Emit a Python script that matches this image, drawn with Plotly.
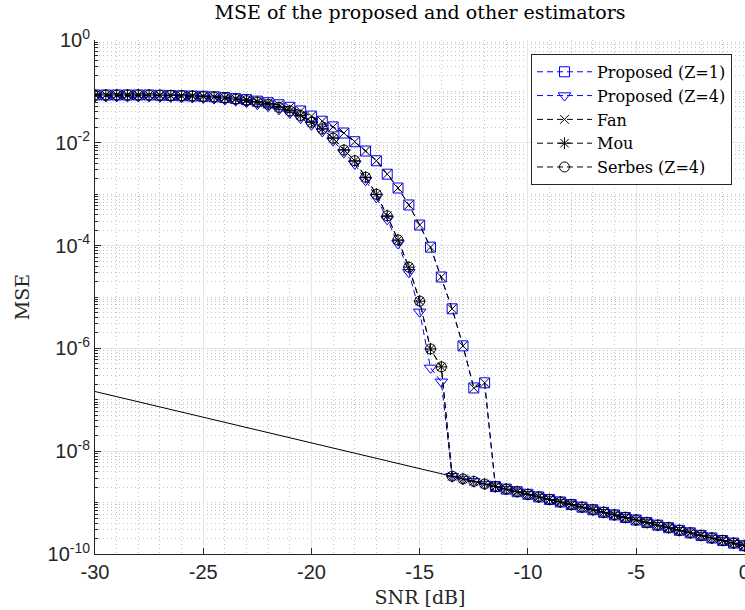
import plotly.graph_objects as go

snr = [-30.0, -29.5, -29.0, -28.5, -28.0, -27.5, -27.0, -26.5, -26.0, -25.5,
       -25.0, -24.5, -24.0, -23.5, -23.0, -22.5, -22.0, -21.5, -21.0, -20.5,
       -20.0, -19.5, -19.0, -18.5, -18.0, -17.5, -17.0, -16.5, -16.0, -15.5,
       -15.0, -14.5, -14.0, -13.5, -13.0, -12.5, -12.0, -11.5, -11.0, -10.5,
       -10.0, -9.5, -9.0, -8.5, -8.0, -7.5, -7.0, -6.5, -6.0, -5.5,
       -5.0, -4.5, -4.0, -3.5, -3.0, -2.5, -2.0, -1.5, -1.0, -0.5, 0.0]

# tail values (on the bound) from -13.5 dB to 0 dB
tail = [3.25e-9, 2.89e-9, 2.58e-9, 2.30e-9, 2.05e-9, 1.83e-9, 1.63e-9, 1.45e-9,
        1.29e-9, 1.15e-9, 1.03e-9, 9.15e-10, 8.15e-10, 7.27e-10, 6.48e-10, 5.77e-10,
        5.14e-10, 4.59e-10, 4.09e-10, 3.64e-10, 3.25e-10, 2.89e-10, 2.58e-10, 2.30e-10,
        2.05e-10, 1.83e-10, 1.63e-10, 1.45e-10]

proposed_z1 = [0.0851, 0.0851, 0.0851, 0.0851, 0.0851, 0.0851, 0.0841, 0.0832, 0.0822, 0.0813,
               0.0804, 0.0785, 0.0759, 0.0724, 0.0692, 0.0646, 0.0603, 0.0550, 0.0490, 0.0417,
               0.0331, 0.0263, 0.0204, 0.0155, 0.0105, 0.00692, 0.00447, 0.00245, 0.00132, 6.17e-4,
               2.51e-4, 9.33e-5, 2.45e-5, 5.89e-6, 1.12e-6, 1.70e-7, 2.14e-7,
               2.05e-9, 1.83e-9, 1.63e-9, 1.45e-9,
               1.29e-9, 1.15e-9, 1.03e-9, 9.15e-10, 8.15e-10, 7.27e-10, 6.48e-10, 5.77e-10,
               5.14e-10, 4.59e-10, 4.09e-10, 3.64e-10, 3.25e-10, 2.89e-10, 2.58e-10, 2.30e-10,
               2.05e-10, 1.83e-10, 1.63e-10, 1.45e-10]
fan = list(proposed_z1)

proposed_z4 = [0.0794, 0.0794, 0.0794, 0.0794, 0.0794, 0.0794, 0.0785, 0.0776, 0.0767, 0.0759,
               0.0741, 0.0724, 0.0692, 0.0661, 0.0617, 0.0562, 0.0513, 0.0447, 0.0380, 0.0302,
               0.0224, 0.0166, 0.0110, 0.00646, 0.00389, 0.00186, 8.71e-4, 3.24e-4, 1.10e-4, 3.02e-5,
               5.13e-6, 4.17e-7, 2.24e-7] + tail

serbes_z4 = [0.0851, 0.0851, 0.0851, 0.0851, 0.0851, 0.0851, 0.0841, 0.0832, 0.0822, 0.0813,
             0.0794, 0.0776, 0.0741, 0.0708, 0.0661, 0.0617, 0.0562, 0.0490, 0.0417, 0.0339,
             0.0251, 0.0186, 0.0123, 0.00724, 0.00447, 0.00214, 0.00100, 3.80e-4, 1.29e-4, 3.80e-5,
             8.32e-6, 9.77e-7, 4.37e-7] + tail
mou = list(serbes_z4)

bound_snr = [-30.0, 0.0]
bound = [1.45e-7, 1.45e-10]

x_ticks = [-30, -25, -20, -15, -10, -5, 0]
y_ticks = [1e-10, 1e-8, 1e-6, 1e-4, 1e-2, 1]
y_ticktext = ["10<sup>-10</sup>", "10<sup>-8</sup>", "10<sup>-6</sup>",
              "10<sup>-4</sup>", "10<sup>-2</sup>", "10<sup>0</sup>"]
y_minor = [k * 10.0 ** e for e in range(-10, 0) for k in range(1, 10)
           if not (k == 1 and e % 2 == 0)]

BLUE = "#0000ff"
BLACK = "#000000"
DASH = "6px,4px"
SERIF = "DejaVu Serif"

fig = go.Figure()
fig.add_trace(go.Scatter(x=bound_snr, y=bound, mode="lines", showlegend=False,
                         line=dict(color=BLACK, width=1)))
series = [
    ("Proposed (Z=1)", proposed_z1, BLUE, "square-open", 10),
    ("Proposed (Z=4)", proposed_z4, BLUE, "triangle-down-open", 11),
    ("Fan", fan, BLACK, "x-thin-open", 9),
    ("Mou", mou, BLACK, "asterisk-open", 10),
    ("Serbes (Z=4)", serbes_z4, BLACK, "circle-open", 10),
]
for name, vals, col, sym, sz in series:
    fig.add_trace(go.Scatter(
        x=snr, y=vals, mode="lines+markers", name=name,
        line=dict(color=col, width=1, dash=DASH),
        marker=dict(symbol=sym, size=sz, color=col, line=dict(color=col, width=1)),
    ))

fig.update_layout(
    width=745, height=610,
    margin=dict(l=95, r=0, t=40, b=56),
    paper_bgcolor="white", plot_bgcolor="white",
    title=dict(text="MSE of the proposed and other estimators", x=0.5, xref="paper",
               xanchor="center", y=0.979, yref="container", yanchor="middle",
               font=dict(family=SERIF, size=19, color="black")),
    legend=dict(x=0.98, y=0.973, xanchor="right", yanchor="top",
                bgcolor="white", bordercolor="#262626", borderwidth=1,
                font=dict(family=SERIF, size=16, color="black"),
                itemwidth=55, tracegroupgap=0),
)
fig.update_xaxes(
    range=[-30, 0.03], tickmode="array", tickvals=x_ticks, ticktext=[str(t) for t in x_ticks],
    ticks="inside", ticklen=6, tickcolor="#262626", ticklabeloverflow="allow",
    automargin=False,
    showline=True, linecolor="#262626", linewidth=1, mirror=False,
    showgrid=True, gridcolor="#e6e6e6", gridwidth=1, zeroline=False,
    tickfont=dict(family="Liberation Sans", size=20, color="#262626"),
    minor=dict(dtick=1, showgrid=True, griddash="1px,3px", gridcolor="#c4c4c4", gridwidth=1, ticks=""),
    title=dict(text="SNR [dB]", font=dict(family=SERIF, size=19, color="#262626"), standoff=8),
)
fig.update_yaxes(
    type="log", range=[-10, 0], tickmode="array", tickvals=y_ticks, ticktext=y_ticktext,
    ticks="inside", ticklen=6, tickcolor="#262626", automargin=False,
    showline=True, linecolor="#262626", linewidth=1, mirror=False,
    showgrid=True, gridcolor="#e6e6e6", gridwidth=1, zeroline=False,
    tickfont=dict(family="Liberation Sans", size=20, color="#262626"),
    minor=dict(tickmode="array", tickvals=y_minor, showgrid=True, griddash="1px,3px",
               gridcolor="#c4c4c4", gridwidth=1, ticks="inside", ticklen=3, tickcolor="#262626"),
    title=dict(text="MSE", font=dict(family=SERIF, size=19, color="#262626"), standoff=12),
)

fig.write_html("out.html")
